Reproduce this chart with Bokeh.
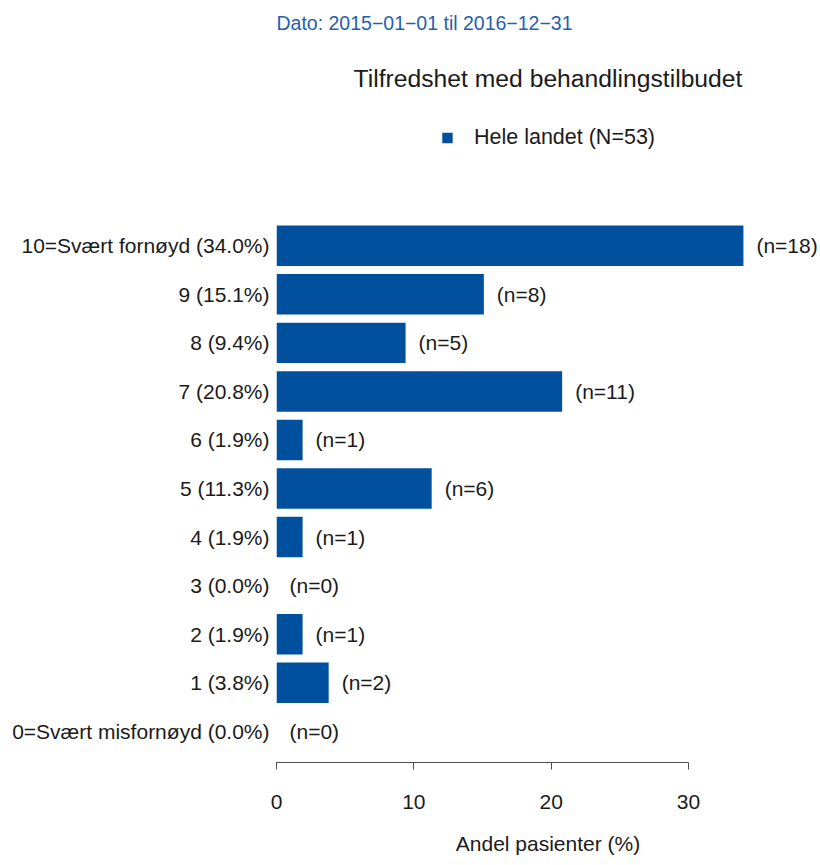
from bokeh.plotting import figure
from bokeh.models import (ColumnDataSource, Range1d, FixedTicker, Title, Legend,
                          LegendItem, LinearAxis)
from bokeh.core.properties import value
from bokeh.embed import file_html
from bokeh.resources import INLINE

# ---- data ----
scores = [0, 1, 2, 3, 4, 5, 6, 7, 8, 9, 10]
counts = [0, 2, 1, 0, 1, 6, 1, 11, 5, 8, 18]
percents = [0.0, 3.8, 1.9, 0.0, 1.9, 11.3, 1.9, 20.8, 9.4, 15.1, 34.0]
category_labels = ["0=Svært misfornøyd (0.0%)", "1 (3.8%)", "2 (1.9%)", "3 (0.0%)",
                   "4 (1.9%)", "5 (11.3%)", "6 (1.9%)", "7 (20.8%)", "8 (9.4%)",
                   "9 (15.1%)", "10=Svært fornøyd (34.0%)"]
n_labels = ["(n=0)", "(n=2)", "(n=1)", "(n=0)", "(n=1)", "(n=6)", "(n=1)",
            "(n=11)", "(n=5)", "(n=8)", "(n=18)"]
x_ticks = [0, 10, 20, 30]
title_text = "Tilfredshet med behandlingstilbudet"
date_text = "Dato: 2015\u221201\u221201 til 2016\u221212\u221231"
legend_text = "Hele landet (N=53)"
x_label = "Andel pasienter (%)"

FONT = "Liberation Sans"
BAR = "#00509E"

src = ColumnDataSource(dict(y=scores, pct=percents, n=counts, nlab=n_labels))

p = figure(width=819, height=857,
           x_range=Range1d(0, 39.54), y_range=Range1d(-0.643, 12.765),
           output_backend="svg", toolbar_location=None,
           min_border_left=276, min_border_right=0, min_border_top=109,
           min_border_bottom=91, x_axis_location=None, y_axis_location=None)
p.outline_line_color = None
p.grid.visible = False
p.background_fill_color = "white"
p.border_fill_color = "white"

bars = p.hbar(y="y", right="pct", left=0, height=1 / 1.2, source=src,
              fill_color=BAR, line_color=None)

p.text(x="pct", y="y", text="nlab", source=src, x_offset=13,
       text_baseline="middle", text_align="left",
       text_font=value(FONT), text_font_size="21px", text_color="#1a1a1a")

# x axis
xa = LinearAxis(ticker=FixedTicker(ticks=x_ticks), bounds=(0, 30),
                axis_label=x_label)
xa.axis_line_color = "#4d4d4d"
xa.major_tick_line_color = "#4d4d4d"
xa.major_tick_out = 7
xa.major_tick_in = 0
xa.minor_tick_line_color = None
xa.major_label_standoff = 25
xa.major_label_text_font = FONT
xa.major_label_text_font_size = "21px"
xa.major_label_text_color = "#1a1a1a"
xa.axis_label_text_font = FONT
xa.axis_label_text_font_size = "21px"
xa.axis_label_text_font_style = "normal"
xa.axis_label_text_color = "#1a1a1a"
xa.axis_label_standoff = 20
p.add_layout(xa, "below")

# y axis (category labels)
ya = LinearAxis(ticker=FixedTicker(ticks=scores),
                major_label_overrides={s: l for s, l in zip(scores, category_labels)})
ya.axis_line_color = None
ya.major_tick_line_color = None
ya.minor_tick_line_color = None
ya.major_tick_out = 0
ya.major_tick_in = 0
ya.major_label_standoff = 7
ya.major_label_text_font = FONT
ya.major_label_text_font_size = "21px"
ya.major_label_text_color = "#1a1a1a"
p.add_layout(ya, "left")

# legend inside the frame, near its top
legend = Legend(items=[LegendItem(label=legend_text, renderers=[bars])],
                location="top_center", orientation="horizontal",
                glyph_width=13, glyph_height=13, label_standoff=21,
                label_text_font=FONT, label_text_font_size="21.5px",
                label_text_color="#1a1a1a", border_line_color=None,
                background_fill_alpha=0, padding=0, margin=14)
p.add_layout(legend)

t_main = Title(text=title_text, align="center", text_font=FONT,
               text_font_size="24.7px", text_font_style="normal",
               text_color="#1a1a1a", standoff=40)
p.add_layout(t_main, "above")

t_date = Title(text=date_text, align="left", text_font=FONT,
               text_font_size="19.5px", text_font_style="normal",
               text_color="#1F5FAE", standoff=18)
p.add_layout(t_date, "above")

open("out.html", "w").write(file_html(p, INLINE))
